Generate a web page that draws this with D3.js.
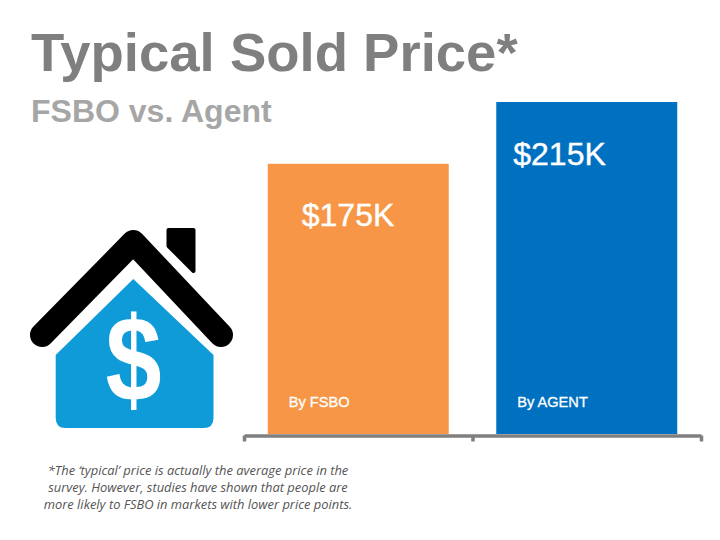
<!DOCTYPE html>
<html><head><meta charset="utf-8">
<script src="https://cdn.jsdelivr.net/npm/d3@7/dist/d3.min.js"></script>
<style>html,body{margin:0;padding:0;background:#fff}svg{display:block}</style>
</head><body><svg id="c" width="720" height="540"></svg>
<script>
const categories = ["By FSBO", "By AGENT"];
const values = [175, 215];
const valueLabels = ["$175K", "$215K"];
const titleText = "Typical Sold Price*";
const subtitleText = "FSBO vs. Agent";
const footnote = [
  "*The \u2018typical\u2019 price is actually the average price in the",
  "survey. However, studies have shown that people are",
  "more likely to FSBO in markets with lower price points."
];
const sans = "'Liberation Sans', Arial, sans-serif";
const svg = d3.select("#c");
const baseY = 434;

const x = d3.scaleBand().domain(categories).range([244, 701]).paddingInner(0.208).paddingOuter(0.104);
const y = d3.scaleLinear().domain([0, 215]).range([baseY, 102]);
const edge = d3.scaleLinear().domain([0, categories.length]).range([244, 701]);

svg.append("text").attr("x", 31).attr("y", 71).attr("font-family", sans).attr("font-weight", 700)
  .attr("font-size", 54.5).attr("fill", "#7f7f7f").text(titleText);
svg.append("text").attr("x", 31).attr("y", 122).attr("font-family", sans).attr("font-weight", 700)
  .attr("font-size", 32).attr("fill", "#a6a6a6").text(subtitleText);

svg.selectAll("rect.bar").data(values).join("rect").attr("class", "bar")
  .attr("x", (d, i) => x(categories[i])).attr("width", x.bandwidth())
  .attr("y", d => y(d)).attr("height", d => baseY - y(d))
  .attr("fill", (d, i) => ["#f79646", "#0070c0"][i]);

const axis = d3.axisBottom(edge).tickValues(d3.range(categories.length + 1)).tickFormat("").tickSize(6).tickSizeOuter(0);
const ax = svg.append("g").attr("transform", `translate(0,${baseY + 1.5})`).call(axis);
ax.selectAll("path.domain").attr("stroke", "#7f7f7f").attr("stroke-width", 3.5);
ax.selectAll("line").attr("stroke", "#7f7f7f").attr("stroke-width", 3.5);

svg.selectAll("text.val").data(valueLabels).join("text").attr("class", "val")
  .attr("x", (d, i) => x(categories[i]) + [34, 17][i]).attr("y", (d, i) => y(values[i]) + 62.5)
  .attr("font-family", sans).attr("font-size", 32).attr("fill", "#fff")
  .attr("stroke", "#fff").attr("stroke-width", 0.4).text(d => d);
svg.selectAll("text.cat").data(categories).join("text").attr("class", "cat")
  .attr("x", (d, i) => x(d) + 21).attr("y", 407)
  .attr("font-family", sans).attr("font-size", 14.6).attr("fill", "#fff")
  .attr("stroke", "#fff").attr("stroke-width", 0.3).text(d => d);

svg.selectAll("text.foot").data(footnote).join("text").attr("class", "foot")
  .attr("x", 198).attr("y", (d, i) => 474.5 + i * 17).attr("text-anchor", "middle")
  .attr("font-family", "'Open Sans', sans-serif").attr("font-style", "italic")
  .attr("font-size", 12.9).attr("fill", "#555").text(d => d);

const house = svg.append("g");
house.append("path").attr("fill", "#0e9bd8")
  .attr("d", "M133.3 279 L213.5 355 V418 Q213.5 428 203.5 428 H65.7 Q55.7 428 55.7 418 V355 Z");
house.append("text").attr("transform", "translate(133.5,401) scale(0.95,1.13)").attr("text-anchor", "middle")
  .attr("font-family", sans).attr("font-weight", 700).attr("font-size", 106).attr("fill", "#fff").text("$");
house.append("path").attr("fill", "none").attr("stroke", "#000").attr("stroke-width", 24)
  .attr("stroke-linecap", "round").attr("stroke-linejoin", "round")
  .attr("d", "M42 335 L133.3 242 L221 335");
house.append("path").attr("fill", "#000").attr("stroke", "#000").attr("stroke-width", 4).attr("stroke-linejoin", "round")
  .attr("d", "M168.5 230 H193.5 V271 L168.5 246 Z");
</script></body></html>
